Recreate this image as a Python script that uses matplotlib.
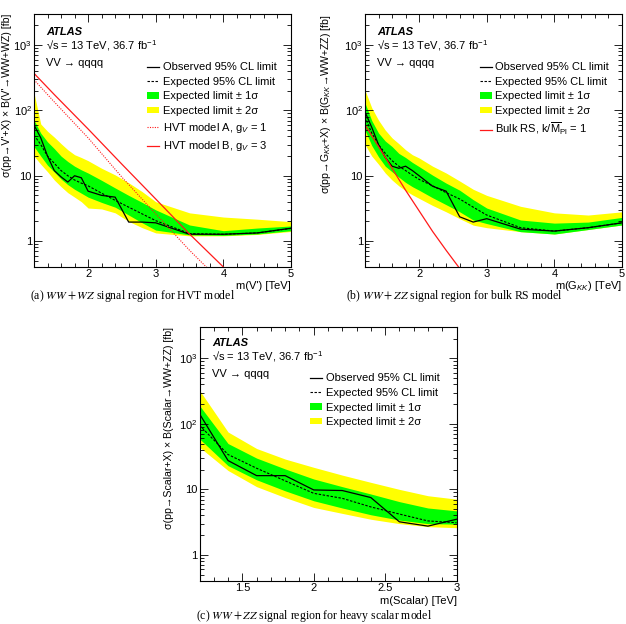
import numpy as np
import matplotlib
matplotlib.use("Agg")
import matplotlib.pyplot as plt
from matplotlib.lines import Line2D
from matplotlib.patches import Patch
from matplotlib.ticker import FixedLocator, MultipleLocator, LogLocator, NullFormatter

plt.rcParams['font.family'] = ['Liberation Sans', 'DejaVu Sans']
plt.rcParams['mathtext.fontset'] = 'custom'
plt.rcParams['mathtext.rm'] = 'Liberation Sans'
plt.rcParams['mathtext.it'] = 'Liberation Sans:italic'
plt.rcParams['mathtext.bf'] = 'Liberation Sans:bold'
plt.rcParams['font.size'] = 8

GREEN = '#00ff00'
YELLOW = '#ffff00'
RED = '#ff1a1a'

# (a) WW + WZ, HVT
mass_a = [1.2, 1.3, 1.4, 1.5, 1.6, 1.7, 1.8, 1.9, 2.0, 2.2, 2.4, 2.6, 2.8, 3.0, 3.5, 4.0, 4.5, 5.0]
obs_a = [60, 38, 20, 12, 9.6, 8.0, 10, 9.3, 5.8, 5.0, 4.7, 1.95, 1.95, 1.9, 1.27, 1.27, 1.33, 1.57]
exp_a = [42, 30, 20, 15.5, 12, 10, 8.6, 7.7, 7.0, 5.4, 4.2, 3.3, 2.6, 2.05, 1.3, 1.27, 1.33, 1.56]
s1_hi_a = [71, 45, 33, 26, 20, 16.5, 14, 12.3, 11, 8.5, 6.5, 5.0, 3.9, 3.0, 1.76, 1.44, 1.58, 1.7]
s1_lo_a = [28, 20, 14.5, 11.4, 8.9, 7.3, 6.2, 5.4, 4.7, 3.9, 3.3, 2.5, 1.9, 1.47, 1.24, 1.22, 1.28, 1.44]
s2_hi_a = [185, 62, 48, 39, 31, 25, 21, 19, 17, 13, 10.3, 7.8, 5.7, 4.0, 2.7, 2.33, 2.16, 1.98]
s2_lo_a = [20, 15, 11.5, 8.6, 6.8, 5.5, 4.7, 4.0, 3.2, 3.1, 2.7, 2.0, 1.6, 1.33, 1.2, 1.2, 1.26, 1.4]
mass_hvt = [1.2, 1.5, 2.0, 2.5, 3.0, 3.5, 4.0, 4.5]
hvt_model_a = [295, 135, 38, 9.5, 2.6, 0.72, 0.22, 0.065]
hvt_model_b = [370, 175, 52, 15, 4.4, 1.28, 0.4, 0.12]

# (b) WW + ZZ, bulk RS
mass_b = [1.2, 1.3, 1.4, 1.5, 1.6, 1.7, 1.8, 1.9, 2.0, 2.2, 2.4, 2.6, 2.8, 3.0, 3.5, 4.0, 4.5, 5.0]
obs_b = [95, 55, 30, 19, 14, 13, 14, 12, 10, 6.9, 5.8, 2.35, 1.95, 2.2, 1.52, 1.42, 1.6, 1.9]
exp_b = [80, 45, 30, 22, 17, 14, 12, 10.2, 8.8, 7.0, 5.5, 4.4, 3.3, 2.5, 1.6, 1.42, 1.6, 1.9]
s1_hi_b = [130, 70, 45, 34, 28, 22, 19, 16, 13.8, 10.2, 7.7, 6.0, 4.3, 3.2, 2.1, 1.88, 1.95, 2.3]
s1_lo_b = [50, 29, 19.5, 14, 11.5, 9.5, 7.9, 6.8, 6.0, 4.6, 3.6, 2.8, 2.1, 1.85, 1.39, 1.28, 1.5, 1.76]
s2_hi_b = [205, 110, 71, 50, 38, 31, 25, 21, 18.7, 14, 11, 8.3, 6.2, 5.0, 3.4, 2.7, 2.5, 2.8]
s2_lo_b = [30, 20, 15, 11, 8.6, 7.0, 5.9, 5.1, 4.5, 3.5, 2.8, 2.2, 1.75, 1.6, 1.39, 1.28, 1.5, 1.76]
mass_rs = [1.2, 1.4, 1.6, 1.8, 2.0, 2.2, 2.4, 2.6, 2.8]
bulk_rs = [60, 28, 13, 6.0, 2.9, 1.4, 0.72, 0.38, 0.2]

# (c) WW + ZZ, heavy scalar
mass_c = [1.2, 1.4, 1.6, 1.8, 2.0, 2.2, 2.4, 2.6, 2.8, 3.0]
obs_c = [142, 27.5, 16.2, 16.2, 9.8, 9.6, 7.5, 3.2, 2.75, 3.5]
exp_c = [95, 34, 21, 13.5, 8.7, 7.3, 5.4, 4.2, 3.3, 3.1]
s1_hi_c = [190, 50, 30, 20.5, 14.4, 11, 8.5, 6.5, 5.2, 4.7]
s1_lo_c = [59, 23, 14, 9.5, 6.7, 5.2, 4.1, 3.4, 3.0, 2.95]
s2_hi_c = [325, 75, 42, 29, 21.7, 16.5, 12.8, 10, 8, 7.1]
s2_lo_c = [44, 19.4, 11, 7.5, 5.3, 4.3, 3.5, 3.0, 2.7, 2.6]


def draw_limits(ax, m, obs, exp, s1_lo, s1_hi, s2_lo, s2_hi):
    ax.fill_between(m, s2_lo, s2_hi, color=YELLOW, lw=0)
    ax.fill_between(m, s1_lo, s1_hi, color=GREEN, lw=0)
    ax.plot(m, exp, color='black', lw=0.8, dashes=(2.2, 1.4))
    ax.plot(m, obs, color='black', lw=0.9)


def style_axes(ax, xlim, major, labels, minor):
    ax.set_yscale('log')
    ax.set_xlim(*xlim)
    ax.set_ylim(0.4, 3000)
    ax.xaxis.set_major_locator(FixedLocator(major))
    ax.set_xticklabels(labels)
    ax.xaxis.set_minor_locator(MultipleLocator(minor))
    ax.yaxis.set_major_locator(FixedLocator([1, 10, 100, 1000]))
    ax.set_yticklabels(['1', '10', '$10^2$', '$10^3$'])
    ax.yaxis.set_minor_locator(LogLocator(base=10, subs=np.arange(2, 10)))
    ax.yaxis.set_minor_formatter(NullFormatter())
    ax.tick_params(which='both', direction='in', top=True, right=True, width=0.6, labelsize=8)
    ax.tick_params(which='major', length=6, pad=1.5)
    ax.tick_params(which='minor', length=3)
    for sp in ax.spines.values():
        sp.set_linewidth(0.8)


def atlas_label(ax, y0):
    ax.text(0.048, y0, 'ATLAS', transform=ax.transAxes, fontsize=8,
            fontweight='bold', fontstyle='italic', va='center')
    ax.text(0.048, y0 - 0.054, '√s = 13 TeV, 36.7 fb$^{-1}$', transform=ax.transAxes,
            fontsize=8, va='center')
    ax.text(0.048, y0 - 0.122, 'VV → qqqq', transform=ax.transAxes, fontsize=8, va='center')


def limit_handles():
    return [Line2D([], [], color='black', lw=0.9),
            Line2D([], [], color='black', lw=0.8, dashes=(2.2, 1.4)),
            Patch(facecolor=GREEN, edgecolor='none'),
            Patch(facecolor=YELLOW, edgecolor='none')]


LIMIT_LABELS = ['Observed 95% CL limit', 'Expected 95% CL limit',
                'Expected limit ± 1σ', 'Expected limit ± 2σ']
LEG = dict(loc='upper left', frameon=False, fontsize=8, handlelength=1.1, handleheight=0.5,
           handletextpad=0.3, labelspacing=0.42, borderpad=0, borderaxespad=0)

fig = plt.figure(figsize=(6.26, 6.24), dpi=100)
W, H = 626, 624
ax_a = fig.add_axes([34 / W, 1 - 267 / H, 257 / W, 253 / H])
ax_b = fig.add_axes([365 / W, 1 - 267 / H, 257 / W, 253 / H])
ax_c = fig.add_axes([199.5 / W, 1 - 581 / H, 257 / W, 254 / H])

# (a)
draw_limits(ax_a, mass_a, obs_a, exp_a, s1_lo_a, s1_hi_a, s2_lo_a, s2_hi_a)
ax_a.plot(mass_hvt, hvt_model_a, color=RED, lw=0.8, dashes=(1.0, 1.2))
ax_a.plot(mass_hvt, hvt_model_b, color=RED, lw=0.9)
style_axes(ax_a, (1.2, 5), [2, 3, 4, 5], ['2', '3', '4', '5'], 0.2)
atlas_label(ax_a, 0.929)
handles = limit_handles() + [Line2D([], [], color=RED, lw=0.8, dashes=(1.0, 1.2)),
                             Line2D([], [], color=RED, lw=0.9)]
labels = LIMIT_LABELS + ['HVT model A, g$_{V}$ = 1', 'HVT model B, g$_{V}$ = 3']
ax_a.legend(handles, labels, bbox_to_anchor=(0.44, 0.81), **LEG)

# (b)
draw_limits(ax_b, mass_b, obs_b, exp_b, s1_lo_b, s1_hi_b, s2_lo_b, s2_hi_b)
ax_b.plot(mass_rs, bulk_rs, color=RED, lw=0.9)
style_axes(ax_b, (1.2, 5), [2, 3, 4, 5], ['2', '3', '4', '5'], 0.2)
atlas_label(ax_b, 0.929)
handles = limit_handles() + [Line2D([], [], color=RED, lw=0.9)]
labels = LIMIT_LABELS + [r'Bulk RS, k/$\overline{\mathrm{M}}_{\mathrm{Pl}}$ = 1']
ax_b.legend(handles, labels, bbox_to_anchor=(0.447, 0.81), **LEG)

# (c)
draw_limits(ax_c, mass_c, obs_c, exp_c, s1_lo_c, s1_hi_c, s2_lo_c, s2_hi_c)
style_axes(ax_c, (1.2, 3), [1.5, 2, 2.5, 3], ['1.5', '2', '2.5', '3'], 0.1)
atlas_label(ax_c, 0.936)
ax_c.legend(limit_handles(), LIMIT_LABELS, bbox_to_anchor=(0.43, 0.818), **LEG)

# axis titles
fig.text(7 / W, 1 - 14 / H, "σ(pp→V'+X) × B(V'→WW+WZ) [fb]", rotation=90,
         ha='center', va='top', fontsize=7.6)
fig.text(326 / W, 1 - 14 / H, 'σ(pp→G$_{KK}$+X) × B(G$_{KK}$→WW+ZZ) [fb]', rotation=90,
         ha='center', va='top', fontsize=7.6)
fig.text(169 / W, 1 - 327 / H, 'σ(pp→Scalar+X) × B(Scalar→WW+ZZ) [fb]', rotation=90,
         ha='center', va='top', fontsize=7.6)
fig.text(291 / W, 1 - 286 / H, "m(V') [TeV]", ha='right', va='center', fontsize=8)
fig.text(622 / W, 1 - 286 / H, 'm(G$_{KK}$) [TeV]', ha='right', va='center', fontsize=8)
fig.text(457 / W, 1 - 601 / H, 'm(Scalar) [TeV]', ha='right', va='center', fontsize=8)

# captions
cap = dict(ha='center', va='center', fontsize=8.5, family='Liberation Serif', math_fontfamily='stix')
fig.text(132.5 / W, 1 - 296 / H, '(a) $WW + WZ$ signal region for HVT model', **cap)
fig.text(454 / W, 1 - 296 / H, '(b) $WW + ZZ$ signal region for bulk RS model', **cap)
fig.text(314 / W, 1 - 616.5 / H, '(c) $WW + ZZ$ signal region for heavy scalar model', **cap)

fig.savefig('out.png', dpi=100)
